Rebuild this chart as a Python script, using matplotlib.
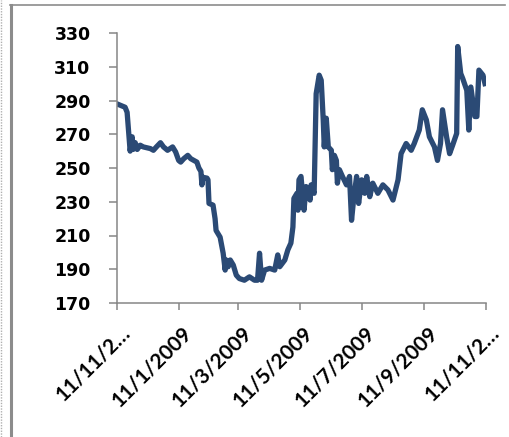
import numpy as np
import pandas as pd
import matplotlib
matplotlib.use("Agg")
import matplotlib.pyplot as plt
import matplotlib.transforms as mtransforms
from matplotlib.lines import Line2D

# data
dates = [
    "2008-11-11", "2008-11-19", "2008-11-21", "2008-11-24", "2008-11-26", "2008-11-27",
    "2008-11-29", "2008-12-01", "2008-12-04", "2008-12-07", "2008-12-14", "2008-12-17",
    "2008-12-20", "2008-12-24", "2008-12-27", "2008-12-31", "2009-01-05", "2009-01-08",
    "2009-01-11", "2009-01-13", "2009-01-16", "2009-01-20", "2009-01-23", "2009-01-26",
    "2009-01-29", "2009-01-31", "2009-02-02", "2009-02-03", "2009-02-04", "2009-02-08",
    "2009-02-09", "2009-02-10", "2009-02-14", "2009-02-16", "2009-02-17", "2009-02-21",
    "2009-02-24", "2009-02-26", "2009-02-27", "2009-03-01", "2009-03-03", "2009-03-06",
    "2009-03-09", "2009-03-12", "2009-03-17", "2009-03-22", "2009-03-27", "2009-03-30",
    "2009-04-01", "2009-04-03", "2009-04-06", "2009-04-11", "2009-04-16", "2009-04-19",
    "2009-04-21", "2009-04-26", "2009-04-29", "2009-05-02", "2009-05-04", "2009-05-05",
    "2009-05-08", "2009-05-09", "2009-05-10", "2009-05-12", "2009-05-15", "2009-05-17",
    "2009-05-21", "2009-05-22", "2009-05-25", "2009-05-27", "2009-05-30", "2009-06-01",
    "2009-06-03", "2009-06-04", "2009-06-06", "2009-06-08", "2009-06-11", "2009-06-12",
    "2009-06-14", "2009-06-16", "2009-06-17", "2009-06-19", "2009-06-22", "2009-06-26",
    "2009-06-29", "2009-07-01", "2009-07-03", "2009-07-06", "2009-07-08", "2009-07-11",
    "2009-07-14", "2009-07-16", "2009-07-19", "2009-07-22", "2009-07-27", "2009-08-01",
    "2009-08-06", "2009-08-11", "2009-08-16", "2009-08-19", "2009-08-24", "2009-08-29",
    "2009-09-01", "2009-09-06", "2009-09-09", "2009-09-13", "2009-09-16", "2009-09-21",
    "2009-09-24", "2009-09-27", "2009-09-29", "2009-10-03", "2009-10-06", "2009-10-09",
    "2009-10-13", "2009-10-14", "2009-10-17", "2009-10-19", "2009-10-23", "2009-10-25",
    "2009-10-27", "2009-10-31", "2009-11-02", "2009-11-04", "2009-11-08", "2009-11-10",
]
values = [
    288, 286, 283, 260, 268.5, 261,
    265, 261, 263.5, 262.5, 261.5, 260.5,
    262.5, 265, 262.5, 260.5, 262.5, 259.5,
    254.5, 253.5, 255.5, 257.5, 255.5, 254.5,
    253.5, 250, 248, 240, 244.5, 244,
    243, 229, 228, 220, 213, 209,
    199.5, 189.5, 195.5, 191.5, 195.5, 192.5,
    186.5, 184.5, 183.5, 185.5, 183.5, 183.5,
    199.5, 183.5, 189.5, 190.5, 189.5, 198.5,
    191.5, 195.5, 201.5, 205.5, 215, 232,
    235, 225, 243, 245, 225, 239,
    231, 240, 235, 294, 305, 302,
    278.5, 262.5, 279.5, 262.5, 260.5, 249,
    257.5, 254.5, 241, 249, 245, 240,
    245, 219, 231, 245, 229, 243,
    235, 245, 233, 241, 235, 240,
    237, 231, 243, 258.5, 264.5, 260.5,
    264.5, 272.5, 284.5, 278.5, 268.5, 262.5,
    254.5, 264.5, 284.5, 268.5, 258.5, 263.5,
    270.5, 322, 306, 303, 296, 272.5,
    298, 280.5, 280.5, 308, 305, 300,
]
tick_dates = ["2008-11-11", "2009-01-11", "2009-03-11", "2009-05-11",
              "2009-07-11", "2009-09-11", "2009-11-11"]
tick_labels = ["11/11/2\u2026", "11/1/2009", "11/3/2009", "11/5/2009",
               "11/7/2009", "11/9/2009", "11/11/2\u2026"]
y_ticks = [170, 190, 210, 230, 250, 270, 290, 310, 330]

x = pd.to_datetime(dates)
xt = pd.to_datetime(tick_dates)

fig = plt.figure(figsize=(5.09, 4.37), dpi=100)
ax = fig.add_axes([117 / 509, 1 - 303 / 437, 369 / 509, 270 / 437])

ax.plot(x, values, color="#2b4a75", linewidth=3.8, solid_joinstyle="round")

ax.set_ylim(170, 330)
ax.set_yticks(y_ticks)
ax.set_xlim(xt[0], xt[-1])
ax.set_xticks(xt)
ax.set_xticklabels(tick_labels)

for s in ["top", "right"]:
    ax.spines[s].set_visible(False)
for s in ["left", "bottom"]:
    ax.spines[s].set_color("#868686")
    ax.spines[s].set_linewidth(1.1)

ax.tick_params(axis="y", length=6, width=1.1, color="#868686", pad=13,
               labelsize=12.5)
ax.tick_params(axis="x", length=5, width=1.1, color="#868686", pad=14,
               labelsize=15)
for lab in ax.get_yticklabels():
    lab.set_fontweight("bold")
offset = mtransforms.ScaledTranslation(10 / 100, 0, fig.dpi_scale_trans)
for lab in ax.get_xticklabels():
    lab.set_family("Lato")
    lab.set_fontweight("bold")
    lab.set_rotation(45)
    lab.set_ha("right")
    lab.set_va("center")
    lab.set_rotation_mode("anchor")
    lab.set_transform(lab.get_transform() + offset)

# outer frame of the chart area
fig.add_artist(Line2D([11 / 509, 11 / 509], [0, 1 - 5 / 437], color="#8c8c8c",
                      linewidth=2.2, transform=fig.transFigure))
fig.add_artist(Line2D([10 / 509, 505 / 509], [1 - 5 / 437, 1 - 5 / 437],
                      color="#8c8c8c", linewidth=1.2, transform=fig.transFigure))
fig.add_artist(Line2D([1 / 509, 1 / 509], [0, 1], color="#b0b0b0",
                      linewidth=1.0, linestyle=(0, (1, 1)),
                      transform=fig.transFigure))

fig.savefig("out.png", dpi=100)
